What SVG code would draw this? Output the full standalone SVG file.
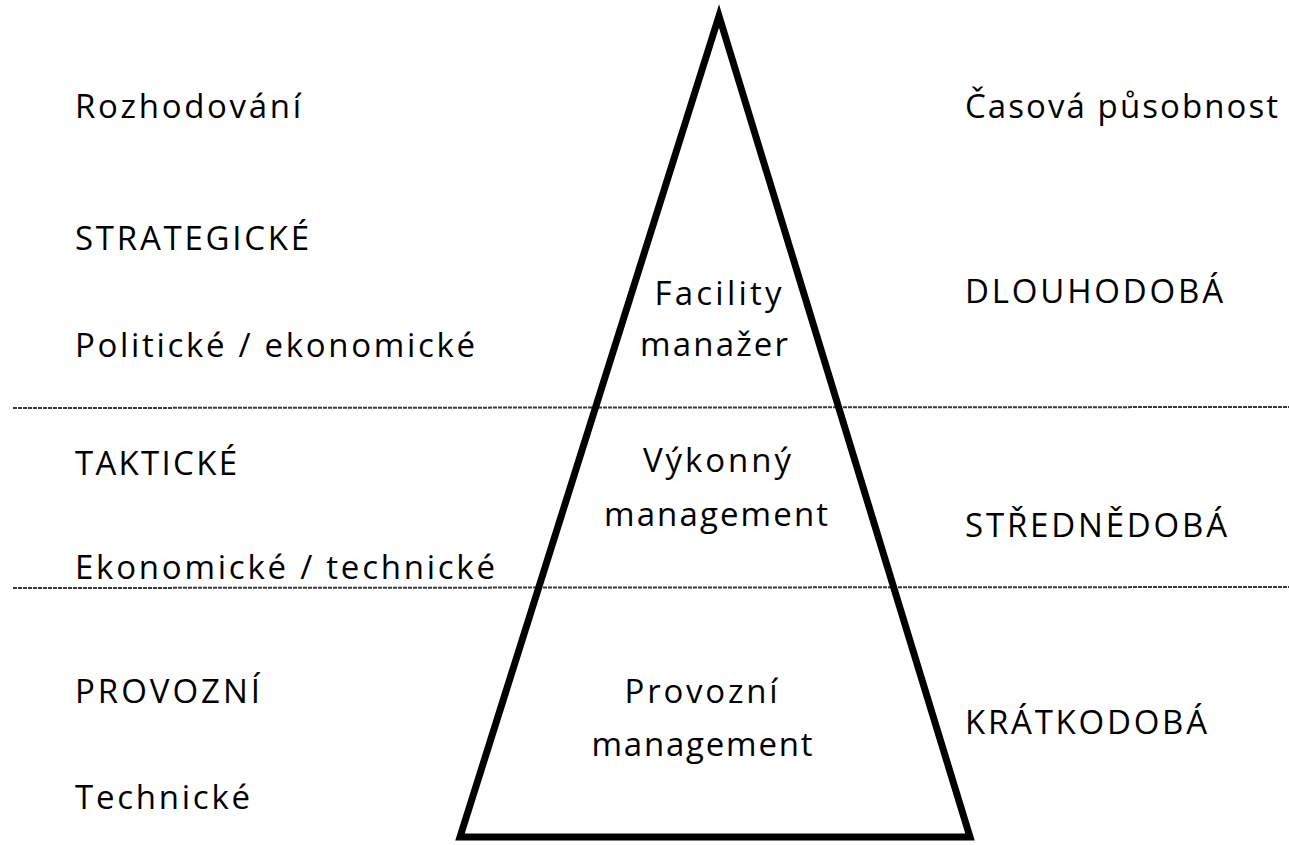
<svg xmlns="http://www.w3.org/2000/svg" width="1289" height="845" viewBox="0 0 1289 845">
  <style>
    .t { font-family: "Open Sans", "Liberation Sans", sans-serif; font-size: 33px; fill: #000; }
    .c { text-anchor: middle; }
    .div { stroke: #3a3a3a; stroke-width: 2; stroke-dasharray: 4 1; fill: none; }
    .tri { stroke: #000; stroke-width: 7; fill: none; stroke-linejoin: miter; }
  </style>
  <rect x="0" y="0" width="1289" height="845" fill="#fff"/>
  <g id="connectors">
    <line class="div" x1="13" y1="408" x2="1289" y2="407"/>
    <line class="div" x1="13" y1="588" x2="1289" y2="587"/>
  </g>
  <g id="pyramid">
    <polygon class="tri" points="719,16 460,837 970,837"/>
  </g>
  <g id="left-labels">
    <text class="t" x="75" y="118" textLength="226" lengthAdjust="spacing">Rozhodování</text>
    <text class="t" x="75" y="250" textLength="234" lengthAdjust="spacing">STRATEGICKÉ</text>
    <text class="t" x="75" y="357" textLength="400" lengthAdjust="spacing">Politické / ekonomické</text>
    <text class="t" x="75" y="475" textLength="162" lengthAdjust="spacing">TAKTICKÉ</text>
    <text class="t" x="75" y="579" textLength="420" lengthAdjust="spacing">Ekonomické / technické</text>
    <text class="t" x="75" y="703" textLength="185" lengthAdjust="spacing">PROVOZNÍ</text>
    <text class="t" x="75" y="809" textLength="175" lengthAdjust="spacing">Technické</text>
  </g>
  <g id="right-labels">
    <text class="t" x="965" y="118" textLength="313" lengthAdjust="spacing">Časová působnost</text>
    <text class="t" x="965" y="303" textLength="258" lengthAdjust="spacing">DLOUHODOBÁ</text>
    <text class="t" x="965" y="537" textLength="262" lengthAdjust="spacing">STŘEDNĚDOBÁ</text>
    <text class="t" x="965" y="734" textLength="242" lengthAdjust="spacing">KRÁTKODOBÁ</text>
  </g>
  <g id="node-facility">
    <text class="t c" x="718" y="305" textLength="127" lengthAdjust="spacing">Facility</text>
    <text class="t c" x="714" y="356" textLength="148" lengthAdjust="spacing">manažer</text>
  </g>
  <g id="node-vykonny">
    <text class="t c" x="717" y="472" textLength="148" lengthAdjust="spacing">Výkonný</text>
    <text class="t c" x="716" y="526" textLength="224" lengthAdjust="spacing">management</text>
  </g>
  <g id="node-provozni">
    <text class="t c" x="701" y="703" textLength="153" lengthAdjust="spacing">Provozní</text>
    <text class="t c" x="702" y="756" textLength="221" lengthAdjust="spacing">management</text>
  </g>
</svg>
